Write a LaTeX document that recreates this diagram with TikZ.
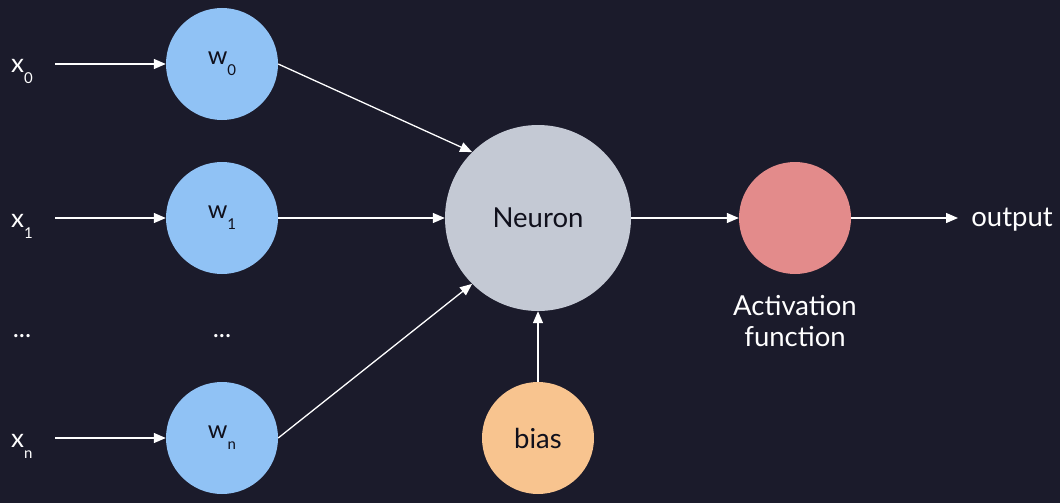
\documentclass[tikz,border=0pt]{standalone}
\usepackage{fontspec}
\setmainfont{Lato}
\usetikzlibrary{arrows.meta}
\definecolor{bg}{HTML}{1B1B2B}
\definecolor{wblue}{HTML}{90C2F5}
\definecolor{ngray}{HTML}{C4C9D4}
\definecolor{actred}{HTML}{E38B8B}
\definecolor{biasor}{HTML}{F8C48F}
\definecolor{ink}{HTML}{10101C}
\newcommand{\lowsub}[1]{\raisebox{-11pt}{\fontsize{15}{15}\selectfont #1}}
\tikzset{
  circ/.style={circle, draw=none, inner sep=0pt, text=ink, font=\fontsize{27.5}{33}\selectfont},
  wnode/.style={circ, fill=wblue, minimum size=112pt, font=\fontsize{25}{30}\selectfont},
  lbl/.style={text=white, font=\fontsize{27.5}{31}\selectfont, inner sep=0pt},
  inlbl/.style={lbl, font=\fontsize{26}{31}\selectfont},
  arr/.style={draw=white, line width=1.3pt, -{Triangle[length=12pt,width=10pt]}}
}
\begin{document}
\begin{tikzpicture}[x=1pt,y=-1pt]
\fill[bg] (0,0) rectangle (1060,503);
\useasboundingbox (0,0) rectangle (1060,503);
% weight nodes
\node[wnode] (w0) at (222,64) {w\lowsub{0}};
\node[wnode] (w1) at (222,218) {w\lowsub{1}};
\node[wnode] (wn) at (222,438) {w\lowsub{n}};
\node[inlbl] (wdots) at (222,336) {...};
% inputs
\node[inlbl, anchor=base west] (x0) at (11,73) {x\lowsub{0}};
\node[inlbl, anchor=base west] (x1) at (11,227) {x\lowsub{1}};
\node[inlbl, anchor=base west] (xn) at (11,447) {x\lowsub{n}};
\node[inlbl] (xdots) at (22,336) {...};
\coordinate (s0) at (55,64);
\coordinate (s1) at (55,218);
\coordinate (sn) at (55,438);
% neuron etc.
\node[circ, fill=ngray, minimum size=186pt] (neuron) at (538,218) {\raisebox{-2pt}{Neuron}};
\node[circ, fill=actred, minimum size=112pt] (act) at (795,218) {};
\node[circ, fill=biasor, minimum size=112pt] (bias) at (538,438) {bias};
\node[lbl, align=center] (actlbl) at (795,321) {Activation\\function};
\node[lbl] (out) at (1012,220) {output};
\coordinate (oend) at (958,218);
% arrows
\draw[arr] (s0) -- (w0.west);
\draw[arr] (s1) -- (w1.west);
\draw[arr] (sn) -- (wn.west);
\draw[arr] (w0.east) -- (neuron.north west);
\draw[arr] (w1.east) -- (neuron.west);
\draw[arr] (wn.east) -- (neuron.south west);
\draw[arr] (bias.north) -- (neuron.south);
\draw[arr] (neuron.east) -- (act.west);
\draw[arr] (act.east) -- (oend);
\end{tikzpicture}
\end{document}
